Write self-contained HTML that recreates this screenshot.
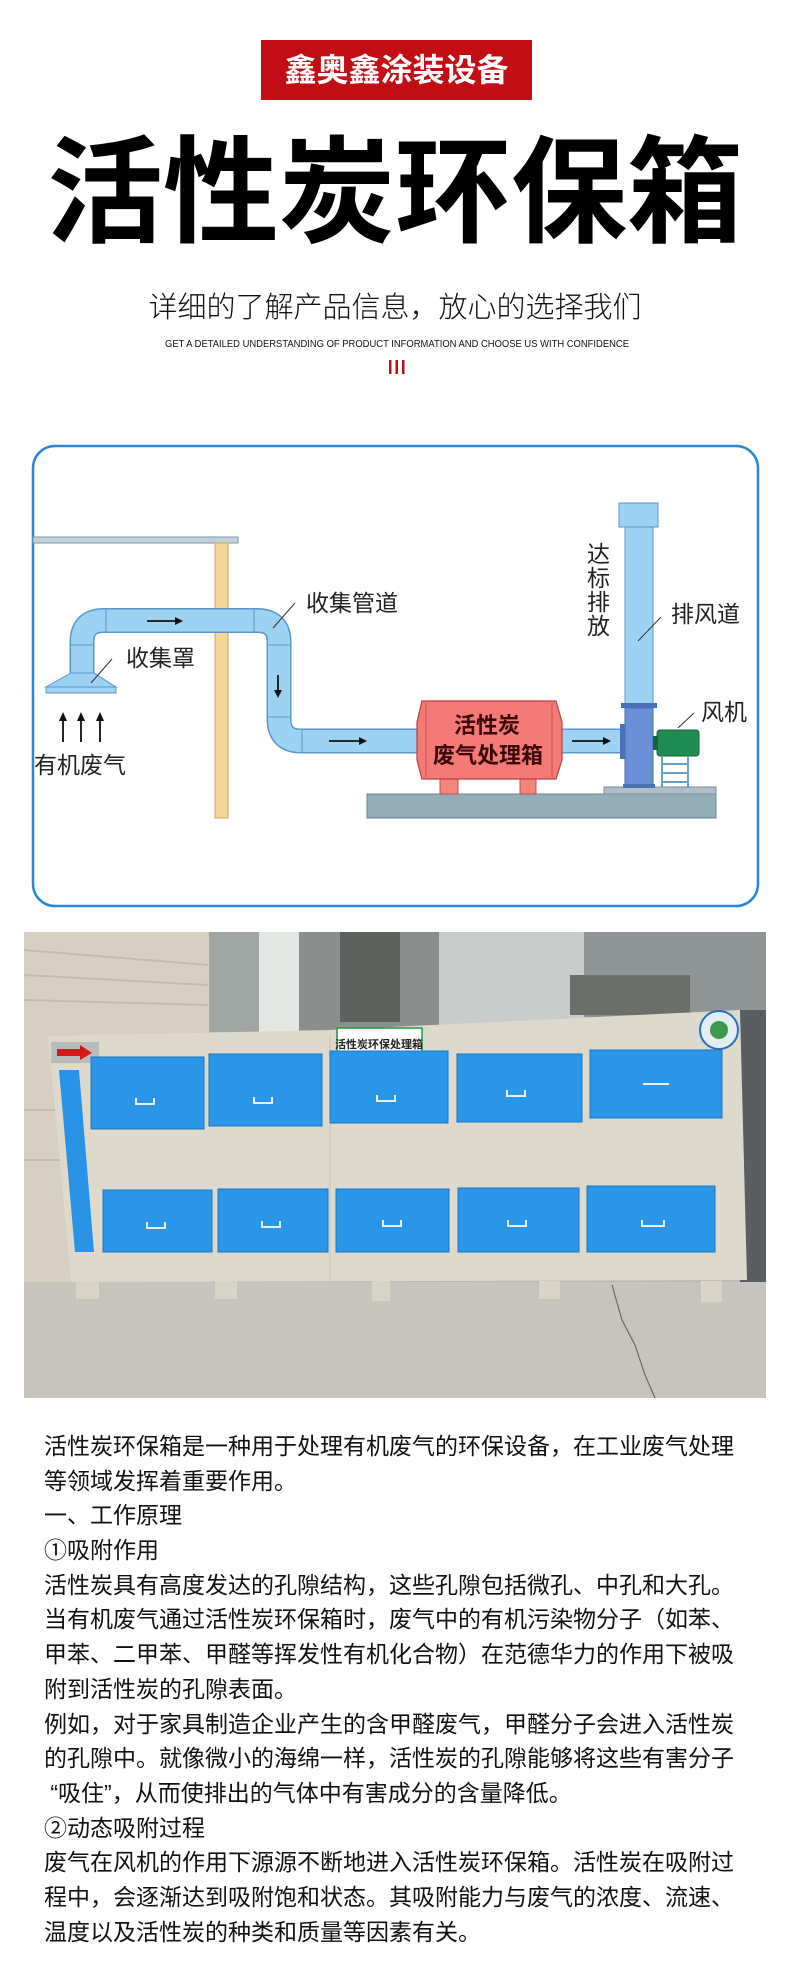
<!DOCTYPE html>
<html><head><meta charset="utf-8">
<style>
html,body{margin:0;padding:0;background:#fff;}
body{width:790px;height:1971px;position:relative;overflow:hidden;font-family:"Liberation Sans","Noto Sans CJK SC",sans-serif;}
.abs{position:absolute;white-space:nowrap;}
#brand{left:261px;top:40px;width:271px;height:60px;background:#c30d14;color:#fff;font-weight:700;font-size:32px;line-height:60px;text-align:center;}
#title{left:0;width:790px;top:118px;text-align:center;font-size:116px;font-weight:700;line-height:150px;color:#000;}
#sub{left:0;width:790px;top:290px;text-align:center;font-size:29px;line-height:36px;color:#111;font-weight:300;}
#body{left:44px;top:1429px;font-size:23px;line-height:34.7px;color:#111;}
#body div{height:34.7px;}
</style></head><body>
<div class="abs" id="brand">鑫奥鑫涂装设备</div>
<div class="abs" id="title">活性炭环保箱</div>
<div class="abs" id="sub">详细的了解产品信息，放心的选择我们</div>

<svg class="abs" style="left:0;top:0" width="790" height="1971" viewBox="0 0 790 1971" xmlns="http://www.w3.org/2000/svg">
<text x="397" y="347" font-family="Liberation Sans, sans-serif" font-size="10" fill="#111" text-anchor="middle" textLength="464" lengthAdjust="spacingAndGlyphs">GET A DETAILED UNDERSTANDING OF PRODUCT INFORMATION AND CHOOSE US WITH CONFIDENCE</text>
<rect x="389" y="360" width="2.5" height="14" fill="#c30d14"/>
<rect x="395.5" y="360" width="2.5" height="14" fill="#c30d14"/>
<rect x="402" y="360" width="2.5" height="14" fill="#c30d14"/>

<rect x="33" y="446" width="725" height="460" rx="22" fill="#fff" stroke="#2a86d6" stroke-width="2.5"/>
<rect x="33" y="537" width="205" height="6" fill="#c2d2da" stroke="#7d95a3" stroke-width="1"/>
<rect x="215" y="543" width="13" height="275" fill="#f6d79a" stroke="#c9a462" stroke-width="1"/>
<path d="M82,673 V642 Q82,620.5 104,620.5 H257 Q279,620.5 279,642 V719 Q279,741 301,741 H420 M560,741 H624" fill="none" stroke="#5b98c9" stroke-width="25"/>
<path d="M82,673 V642 Q82,620.5 104,620.5 H257 Q279,620.5 279,642 V719 Q279,741 301,741 H420 M560,741 H624" fill="none" stroke="#9dd2f3" stroke-width="22"/>
<g stroke="#5b98c9" stroke-width="1">
<line x1="70" y1="645" x2="94" y2="645"/><line x1="106" y1="609" x2="106" y2="632"/>
<line x1="254" y1="609" x2="254" y2="632"/><line x1="267" y1="645" x2="290" y2="645"/>
<line x1="267" y1="717" x2="290" y2="717"/><line x1="302" y1="729" x2="302" y2="752"/>
</g>
<polygon points="71,673 94,673 116,687 46,687" fill="#9dd2f3" stroke="#5b98c9" stroke-width="1"/>
<rect x="46" y="687" width="70" height="6" fill="#9dd2f3" stroke="#5b98c9" stroke-width="1"/>
<g fill="#111" stroke="#111" stroke-width="1.8">
<line x1="147" y1="621" x2="176" y2="621"/><polygon points="183,621 175,617 175,625" stroke="none"/>
<line x1="278" y1="675" x2="278" y2="690"/><polygon points="278,698 274,690 282,690" stroke="none"/>
<line x1="329" y1="741" x2="359" y2="741"/><polygon points="367,741 359,737 359,745" stroke="none"/>
<line x1="572" y1="741" x2="603" y2="741"/><polygon points="611,741 603,737 603,745" stroke="none"/>
<line x1="639" y1="595" x2="639" y2="565"/><polygon points="639,557 635,566 643,566" stroke="none"/>
<line x1="63" y1="742" x2="63" y2="720"/><polygon points="63,712 59,721 67,721" stroke="none"/>
<line x1="81" y1="742" x2="81" y2="720"/><polygon points="81,712 77,721 85,721" stroke="none"/>
<line x1="100" y1="742" x2="100" y2="720"/><polygon points="100,712 96,721 104,721" stroke="none"/>
</g>
<rect x="367" y="794" width="349" height="24" fill="#93adb6" stroke="#6a8894" stroke-width="1"/>
<rect x="604" y="787" width="112" height="7" fill="#aebfc7" stroke="#7890a0" stroke-width="1"/>
<rect x="440" y="779" width="18" height="15" fill="#f4857f" stroke="#c05050" stroke-width="1"/>
<rect x="520" y="779" width="16" height="15" fill="#f4857f" stroke="#c05050" stroke-width="1"/>
<polygon points="422,701 556,701 562,722 562,760 556,779 422,779 417,760 417,722" fill="#f47a78" stroke="#b84040" stroke-width="1.2"/>
<line x1="426" y1="703" x2="426" y2="777" stroke="#c05050" stroke-width="1"/>
<line x1="552" y1="703" x2="552" y2="777" stroke="#c05050" stroke-width="1"/>
<text x="487" y="733" font-family="Liberation Sans, Noto Sans CJK SC, sans-serif" font-weight="700" font-size="22" fill="#3a0808" text-anchor="middle">活性炭</text>
<text x="488" y="763" font-family="Liberation Sans, Noto Sans CJK SC, sans-serif" font-weight="700" font-size="22" fill="#3a0808" text-anchor="middle">废气处理箱</text>
<rect x="625" y="527" width="28" height="178" fill="#9dd2f3" stroke="#5b98c9" stroke-width="1"/>
<rect x="619" y="503" width="39" height="24" fill="#9dd2f3" stroke="#5b98c9" stroke-width="1"/>
<rect x="625" y="708" width="28" height="78" fill="#6b90d8" stroke="#4a6cb0" stroke-width="1"/>
<rect x="621" y="703" width="36" height="5" fill="#4a70b8"/>
<rect x="620" y="724" width="5" height="35" fill="#4a70b8"/>
<rect x="623" y="784" width="32" height="4" fill="#4a70b8"/>
<rect x="657" y="730" width="42" height="26" rx="3" fill="#1f8a52" stroke="#136638" stroke-width="1"/>
<rect x="653" y="736" width="5" height="14" fill="#136638"/>
<g stroke="#6aa0c8" stroke-width="2" fill="none">
<line x1="662" y1="756" x2="662" y2="787"/><line x1="688" y1="756" x2="688" y2="787"/>
<line x1="662" y1="764" x2="688" y2="764"/><line x1="662" y1="773" x2="688" y2="773"/><line x1="662" y1="782" x2="688" y2="782"/>
</g>
<g stroke="#333" stroke-width="1">
<line x1="295" y1="603" x2="273" y2="628"/>
<line x1="112" y1="659" x2="91" y2="683"/>
<line x1="661" y1="617" x2="638" y2="641"/>
<line x1="694" y1="713" x2="678" y2="728"/>
</g>
<g font-family="Liberation Sans, Noto Sans CJK SC, sans-serif" font-size="23" fill="#222">
<text x="306" y="611">收集管道</text>
<text x="126" y="666">收集罩</text>
<text x="34" y="773">有机废气</text>
<text x="671" y="622">排风道</text>
<text x="701" y="720">风机</text>
<text x="587" y="562">达</text><text x="587" y="586">标</text><text x="587" y="610">排</text><text x="587" y="634">放</text>
</g>

<rect x="24" y="932" width="742" height="466" fill="#b8bab6"/>
<rect x="24" y="932" width="185" height="350" fill="#d6cfc2"/>
<g stroke="#c4bba9" stroke-width="2"><line x1="24" y1="950" x2="208" y2="965"/><line x1="24" y1="975" x2="208" y2="985"/><line x1="24" y1="1000" x2="208" y2="1005"/><line x1="24" y1="1110" x2="60" y2="1110"/><line x1="24" y1="1160" x2="60" y2="1160"/></g>
<rect x="209" y="932" width="50" height="100" fill="#9fa6a4"/>
<rect x="259" y="932" width="40" height="100" fill="#e4e6e4"/>
<rect x="299" y="932" width="140" height="100" fill="#8a8e8c"/>
<rect x="340" y="932" width="60" height="90" fill="#5e605e"/>
<rect x="439" y="932" width="145" height="100" fill="#c8ccca"/>
<rect x="584" y="932" width="182" height="85" fill="#8f9594"/>
<rect x="570" y="975" width="120" height="40" fill="#6c6e6a"/>
<rect x="740" y="1010" width="26" height="290" fill="#5a5e60"/>
<rect x="24" y="1282" width="742" height="116" fill="#c6c4bd"/>
<path d="M612,1285 L622,1320 L635,1345 L645,1375 L655,1398" stroke="#6a6a66" stroke-width="1.2" fill="none"/>
<polygon points="48,1036 330,1030 740,1010 747,1280 71,1282" fill="#ddd9cd"/>
<line x1="330" y1="1035" x2="330" y2="1280" stroke="#c8c4b8" stroke-width="1"/>
<g fill="#d8d4c8"><rect x="76" y="1281" width="23" height="18"/><rect x="215" y="1281" width="22" height="18"/><rect x="372" y="1281" width="18" height="20"/><rect x="539" y="1281" width="21" height="18"/><rect x="701" y="1281" width="21" height="21"/></g>
<rect x="337" y="1028" width="85" height="29" fill="#fff" stroke="#1e9a40" stroke-width="1.5"/>
<text x="379" y="1048" font-family="Liberation Sans, Noto Sans CJK SC, sans-serif" font-size="11" font-weight="700" fill="#222" text-anchor="middle">活性炭环保处理箱</text>
<rect x="51" y="1042" width="48" height="21" fill="#b8bcbc"/>
<polygon points="57,1049 80,1049 80,1045 92,1053 80,1060 80,1056 57,1056" fill="#d21a1a"/>
<circle cx="719" cy="1030" r="19" fill="#e4eef2" stroke="#2a70b8" stroke-width="2"/>
<circle cx="719" cy="1030" r="9" fill="#3a9a4a"/>
<polygon points="59,1070 79,1070 94,1252 75,1252" fill="#2b93e6"/>
<g fill="#2b95e8" stroke="#1c78c4" stroke-width="1">
<rect x="91" y="1057" width="113" height="72"/><rect x="209" y="1054" width="113" height="72"/><rect x="330" y="1051" width="118" height="72"/><rect x="457" y="1054" width="125" height="68"/><rect x="590" y="1050" width="132" height="68"/>
<rect x="103" y="1190" width="109" height="62"/><rect x="218" y="1189" width="110" height="63"/><rect x="336" y="1189" width="113" height="63"/><rect x="458" y="1188" width="121" height="64"/><rect x="587" y="1186" width="128" height="66"/>
</g>
<g stroke="#e8eef2" stroke-width="2" fill="none">
<path d="M136,1098 v6 h18 v-6"/><path d="M254,1097 v6 h18 v-6"/><path d="M377,1095 v6 h18 v-6"/><path d="M507,1090 v6 h18 v-6"/><path d="M643,1084 h26"/>
<path d="M147,1222 v6 h18 v-6"/><path d="M262,1221 v6 h18 v-6"/><path d="M383,1220 v6 h18 v-6"/><path d="M508,1220 v6 h18 v-6"/><path d="M642,1220 v6 h22 v-6"/>
</g>
</svg>

<div class="abs" id="body">
<div>活性炭环保箱是一种用于处理有机废气的环保设备，在工业废气处理</div>
<div>等领域发挥着重要作用。</div>
<div>一、工作原理</div>
<div>①吸附作用</div>
<div>活性炭具有高度发达的孔隙结构，这些孔隙包括微孔、中孔和大孔。</div>
<div>当有机废气通过活性炭环保箱时，废气中的有机污染物分子（如苯、</div>
<div>甲苯、二甲苯、甲醛等挥发性有机化合物）在范德华力的作用下被吸</div>
<div>附到活性炭的孔隙表面。</div>
<div>例如，对于家具制造企业产生的含甲醛废气，甲醛分子会进入活性炭</div>
<div>的孔隙中。就像微小的海绵一样，活性炭的孔隙能够将这些有害分子</div>
<div>&nbsp;“吸住”，从而使排出的气体中有害成分的含量降低。</div>
<div>②动态吸附过程</div>
<div>废气在风机的作用下源源不断地进入活性炭环保箱。活性炭在吸附过</div>
<div>程中，会逐渐达到吸附饱和状态。其吸附能力与废气的浓度、流速、</div>
<div>温度以及活性炭的种类和质量等因素有关。</div>
</div>
</body></html>
